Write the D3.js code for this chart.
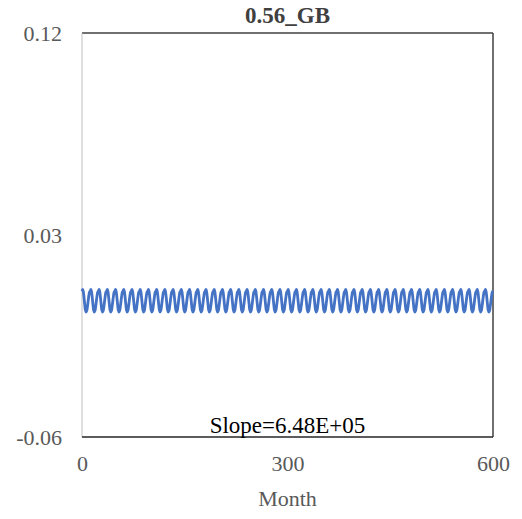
<!DOCTYPE html>
<html>
<head>
<meta charset="utf-8">
<script src="https://cdn.jsdelivr.net/npm/d3@7"></script>
<style>
  body { margin: 0; background: #fff; }
  text { font-family: "Liberation Serif", "Times New Roman", serif; }
  .tick text { fill: #595959; font-size: 22px; }
</style>
</head>
<body>
<svg id="chart" width="522" height="519"></svg>
<script>
const title = "0.56_GB"
const slopeLabel = "Slope=6.48E+05"
const xLabel = "Month"
const xTicks = [0, 300, 600]
const yTicks = [-0.06, 0.03, 0.12]
// one seasonal cycle, it repeats every 12 months
const monthlyCycle = [0.0050, 0.0058, 0.0046, 0.0020, -0.0010, -0.0035, -0.0043, -0.0037, -0.0018, 0.0006, 0.0030, 0.0046]
const nMonths = 601

const data = d3.range(nMonths).map(m => ({ month: m, value: monthlyCycle[m % 12] }))

const svg = d3.select("#chart")
const plotL = 82, plotR = 493, plotT = 33, plotB = 437

const x = d3.scaleLinear().domain([0, 600]).range([plotL, plotR])
const y = d3.scaleLinear().domain([-0.06, 0.12]).range([plotB, plotT])

// plot frame
svg.append("line")
    .attr("x1", plotL).attr("x2", plotR).attr("y1", plotT).attr("y2", plotT)
    .attr("stroke", "#404040").attr("stroke-width", 1.5)
svg.append("line")
    .attr("x1", plotR).attr("x2", plotR).attr("y1", plotT).attr("y2", plotB)
    .attr("stroke", "#404040").attr("stroke-width", 1.5)
svg.append("line")
    .attr("x1", plotL).attr("x2", plotL).attr("y1", plotT).attr("y2", plotB)
    .attr("stroke", "#bfbfbf").attr("stroke-width", 1)

const line = d3.line()
    .x(d => x(d.month))
    .y(d => y(d.value))
    .curve(d3.curveCatmullRom.alpha(0.5))

svg.append("path")
    .datum(data)
    .attr("d", line)
    .attr("fill", "none")
    .attr("stroke", "#4472c4")
    .attr("stroke-width", 2.8)

svg.append("line")
    .attr("x1", plotL).attr("x2", plotR).attr("y1", plotB).attr("y2", plotB)
    .attr("stroke", "#262626").attr("stroke-width", 1.5)

const yAxis = svg.append("g")
    .attr("transform", `translate(${plotL},0)`)
    .call(d3.axisLeft(y).tickValues(yTicks).tickFormat(d => d.toFixed(2)).tickSize(0).tickPadding(20))
yAxis.select(".domain").remove()

const xAxis = svg.append("g")
    .attr("transform", `translate(0,${plotB})`)
    .call(d3.axisBottom(x).tickValues(xTicks).tickFormat(d3.format("d")).tickSize(0).tickPadding(18))
xAxis.select(".domain").remove()

svg.append("text")
    .attr("x", (plotL + plotR) / 2)
    .attr("y", 23)
    .attr("text-anchor", "middle")
    .attr("font-weight", "bold")
    .attr("font-size", 23)
    .attr("fill", "#404040")
    .text(title)

svg.append("text")
    .attr("x", (plotL + plotR) / 2)
    .attr("y", 433)
    .attr("text-anchor", "middle")
    .attr("font-size", 23)
    .attr("fill", "#000")
    .text(slopeLabel)

svg.append("text")
    .attr("x", (plotL + plotR) / 2)
    .attr("y", 506)
    .attr("text-anchor", "middle")
    .attr("font-size", 22)
    .attr("fill", "#595959")
    .text(xLabel)
</script>
</body>
</html>
